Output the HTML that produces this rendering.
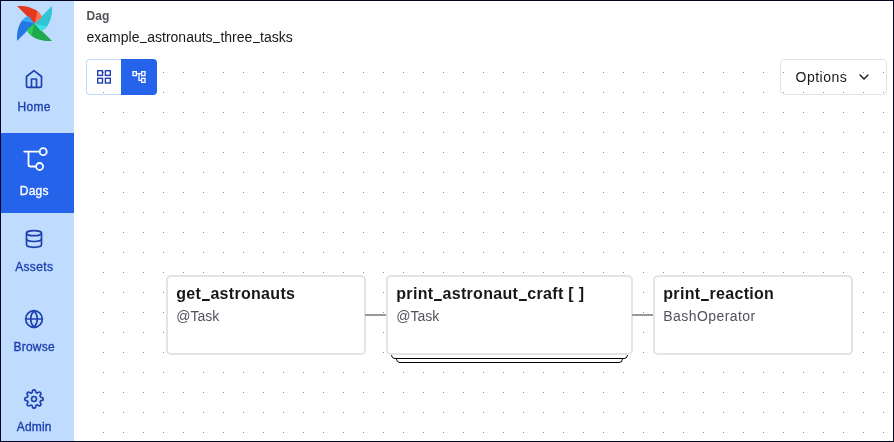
<!DOCTYPE html>
<html lang="en">
<head>
<meta charset="utf-8">
<title>example_astronauts_three_tasks - Dag</title>
<style>
*{box-sizing:border-box;margin:0;padding:0}
html,body{width:894px;height:442px;overflow:hidden;background:#fff;font-family:"Liberation Sans",sans-serif;color:#18181b}
#frame{position:absolute;left:0;top:0;width:894px;height:442px;overflow:hidden;will-change:transform}
#bord{position:absolute;left:0;top:0;width:894px;height:442px;border:1px solid #03041f;pointer-events:none;z-index:50}
#side{position:absolute;left:0;top:0;width:74px;height:442px;background:#bfdbfe}
#logo{position:absolute;left:17px;top:6px;width:35px;height:35px}
.nav{position:absolute;left:0;width:74px;height:80px;color:#1e40af;font-size:12px;line-height:16px;letter-spacing:.2px}
.nav svg{position:absolute;left:24.2px;top:15.8px;width:20px;height:20px;fill:none;stroke:currentColor;stroke-width:2;stroke-linecap:round;stroke-linejoin:round}
.nav span{position:absolute;left:0;top:46px;width:68.4px;text-align:center;white-space:nowrap;-webkit-text-stroke:.33px currentColor}
.nav.active{background:#2563eb;color:#fff}
.nav.active span{top:50px}
#dots{position:absolute;left:86px;top:59px;width:801px;height:383px}
#lbl{position:absolute;left:86.5px;top:8px;font-size:12px;font-weight:700;color:#52525b;line-height:16px;letter-spacing:.1px}
#ttl{position:absolute;left:86.5px;top:27px;font-size:14px;line-height:20px;color:#18181b}
#b1{position:absolute;left:86px;top:59px;width:36px;height:36px;border:1px solid #bfdbfe;border-right:0;border-radius:4px 0 0 4px}
#b2{position:absolute;left:121px;top:59px;width:36px;height:36px;background:#2563eb;border-radius:0 4px 4px 0}
#b1 svg{position:absolute;left:-1px;top:-1px;width:36px;height:36px;fill:none;stroke:#1e40af;stroke-width:1.4;stroke-linejoin:miter}
#b2 svg{position:absolute;left:10px;top:10px;width:16px;height:16px;fill:#fff}
#opt{position:absolute;left:780px;top:59px;width:107px;height:36px;border:1px solid #e4e4e7;border-radius:4px;font-size:14px;line-height:34px;padding-left:14.5px;color:#18181b;letter-spacing:.5px}
#opt svg{position:absolute;left:75px;top:9px;width:16px;height:16px;fill:none;stroke:#18181b;stroke-width:2;stroke-linecap:round;stroke-linejoin:round}
.node{position:absolute;top:275px;height:80px;border:2px solid #e4e4e7;border-radius:5px;background:#fff}
.node b{position:absolute;left:8.3px;top:6px;font-size:16px;line-height:22px;font-weight:700;color:#18181b;white-space:nowrap;letter-spacing:.3px}
.node i{position:absolute;left:8.3px;top:28px;font-style:normal;font-size:14px;line-height:22px;color:#52525b;white-space:nowrap}
.edge{position:absolute;top:314px;height:2px;background:#999;z-index:5}
.stk{position:absolute;border:1px solid #000;border-top:0;border-radius:0 0 4.5px 4.5px;background:#fff;height:12px}
u{text-decoration:none;color:transparent;background-repeat:no-repeat}
.node u{background-image:linear-gradient(#18181b,#18181b);background-size:7.8px 2px;background-position:.5px 13.9px}
#ttl u{background-image:linear-gradient(#18181b,#18181b);background-size:6.8px 1.3px;background-position:.5px 12.8px}
</style>
</head>
<body>
<div id="frame">
  <svg id="dots" width="801" height="383" shape-rendering="crispEdges"><defs><pattern id="dp" x="17" y="13" width="20" height="20" patternUnits="userSpaceOnUse"><rect x="0" y="0" width="1" height="1" fill="#8e8e99"/></pattern></defs><rect width="801" height="383" fill="url(#dp)"/></svg>
  <div id="lbl">Dag</div>
  <div id="ttl">example<u>_</u>astronauts<u>_</u>three<u>_</u>tasks</div>
  <div id="b1"><svg viewBox="0 0 36 36"><rect x="11.7" y="11.7" width="4.8" height="4.7"/><rect x="19.4" y="11.7" width="4.9" height="4.7"/><rect x="19.4" y="19.3" width="4.9" height="4.7"/><rect x="11.7" y="19.3" width="4.8" height="4.7"/></svg></div>
  <div id="b2"><svg viewBox="0 0 24 24"><path d="M22 11V3h-7v3H9V3H2v8h7V8h2v10h4v3h7v-8h-7v3h-2V8h2v3h7zM7 9H4V5h3v4zm10 6h3v4h-3v-4zm0-10h3v4h-3V5z"/></svg></div>
  <div id="opt">Options<svg viewBox="0 0 24 24"><path d="m6 9 6 6 6-6"/></svg></div>

  <div class="edge" style="left:365px;width:21px"></div>
  <div class="edge" style="left:632px;width:21px"></div>
  <div class="stk" style="left:396px;width:227px;top:351px"></div>
  <div class="stk" style="left:391px;width:237px;top:347px"></div>
  <div class="node" style="left:166px;width:200px"><b>get<u>_</u>astronauts</b><i>@Task</i></div>
  <div class="node" style="left:386px;width:247px"><b>print<u>_</u>astronaut<u>_</u>craft [ ]</b><i>@Task</i></div>
  <div class="node" style="left:653px;width:200px"><b>print<u>_</u>reaction</b><i style="letter-spacing:.43px">BashOperator</i></div>

<div id="side">
  <svg id="logo" viewBox="-17.5 -17.5 35 35"><path transform="rotate(0)" d="M-17.5-17.5C-15-17.7-11.1-17.6-8.5-17.1C-5-16.5-1.5-15.2 1.4-13.5C3.6-12.1 6.3-9.3 7.6-6.3L0 0Z" fill="#e43921"/><path transform="rotate(90)" d="M-17.5-17.5C-15-17.7-11.1-17.6-8.5-17.1C-5-16.5-1.5-15.2 1.4-13.5C3.6-12.1 6.3-9.3 7.6-6.3L0 0Z" fill="#2fc5d2"/><path transform="rotate(180)" d="M-17.5-17.5C-15-17.7-11.1-17.6-8.5-17.1C-5-16.5-1.5-15.2 1.4-13.5C3.6-12.1 6.3-9.3 7.6-6.3L0 0Z" fill="#1fa94b"/><path transform="rotate(270)" d="M-17.5-17.5C-15-17.7-11.1-17.6-8.5-17.1C-5-16.5-1.5-15.2 1.4-13.5C3.6-12.1 6.3-9.3 7.6-6.3L0 0Z" fill="#2279e4"/><path transform="rotate(0)" d="M7.6-6.3L0 0C1.2-3.5 2.2-7.5 2.6-12.6C4.6-11 6.5-8.8 7.6-6.3Z" fill="#ff7557"/><path transform="rotate(90)" d="M7.6-6.3L0 0C1.2-3.5 2.2-7.5 2.6-12.6C4.6-11 6.5-8.8 7.6-6.3Z" fill="#3ddfea"/><path transform="rotate(180)" d="M7.6-6.3L0 0C1.2-3.5 2.2-7.5 2.6-12.6C4.6-11 6.5-8.8 7.6-6.3Z" fill="#2ccb5a"/><path transform="rotate(270)" d="M7.6-6.3L0 0C1.2-3.5 2.2-7.5 2.6-12.6C4.6-11 6.5-8.8 7.6-6.3Z" fill="#36adf6"/></svg>
  <div class="nav" style="top:53px"><svg viewBox="0 0 24 24"><path d="M3 9l9-7 9 7v11a2 2 0 0 1-2 2H5a2 2 0 0 1-2-2z"/><polyline points="9 22 9 12 15 12 15 22"/></svg><span style="letter-spacing:.3px">Home</span></div>
  <div class="nav active" style="top:133px"><svg viewBox="0 0 74 80" style="left:0;top:0;width:74px;height:80px;stroke-width:1.8"><path d="M24.2 18.6H39.5M28.5 18.6V31.5a2 2 0 0 0 2 2H35.8"/><circle cx="43.2" cy="18.7" r="3.5"/><circle cx="39.6" cy="33.5" r="3.5"/></svg><span>Dags</span></div>
  <div class="nav" style="top:213px"><svg viewBox="0 0 24 24"><ellipse cx="12" cy="5" rx="9" ry="3"/><path d="M21 12c0 1.66-4 3-9 3s-9-1.34-9-3"/><path d="M3 5v14c0 1.66 4 3 9 3s9-1.34 9-3V5"/></svg><span style="letter-spacing:.35px">Assets</span></div>
  <div class="nav" style="top:293px"><svg viewBox="0 0 24 24"><circle cx="12" cy="12" r="10"/><line x1="2" y1="12" x2="22" y2="12"/><path d="M12 2a15.3 15.3 0 0 1 4 10 15.3 15.3 0 0 1-4 10 15.3 15.3 0 0 1-4-10 15.3 15.3 0 0 1 4-10z"/></svg><span style="letter-spacing:.25px">Browse</span></div>
  <div class="nav" style="top:373px"><svg viewBox="0 0 24 24"><circle cx="12" cy="12" r="3"/><path d="M19.4 15a1.65 1.65 0 0 0 .33 1.82l.06.06a2 2 0 0 1 0 2.83 2 2 0 0 1-2.83 0l-.06-.06a1.65 1.65 0 0 0-1.82-.33 1.65 1.65 0 0 0-1 1.51V21a2 2 0 0 1-2 2 2 2 0 0 1-2-2v-.09A1.65 1.65 0 0 0 9 19.4a1.65 1.65 0 0 0-1.82.33l-.06.06a2 2 0 0 1-2.83 0 2 2 0 0 1 0-2.83l.06-.06a1.65 1.65 0 0 0 .33-1.82 1.65 1.65 0 0 0-1.51-1H3a2 2 0 0 1-2-2 2 2 0 0 1 2-2h.09A1.65 1.65 0 0 0 4.6 9a1.65 1.65 0 0 0-.33-1.82l-.06-.06a2 2 0 0 1 0-2.83 2 2 0 0 1 2.83 0l.06.06a1.65 1.65 0 0 0 1.82.33H9a1.65 1.65 0 0 0 1-1.51V3a2 2 0 0 1 2-2 2 2 0 0 1 2 2v.09a1.65 1.65 0 0 0 1 1.51 1.65 1.65 0 0 0 1.82-.33l.06-.06a2 2 0 0 1 2.83 0 2 2 0 0 1 0 2.83l-.06.06a1.65 1.65 0 0 0-.33 1.82V9a1.65 1.65 0 0 0 1.51 1H21a2 2 0 0 1 2 2 2 2 0 0 1-2 2h-.09a1.65 1.65 0 0 0-1.51 1z"/></svg><span>Admin</span></div>
</div>
<div id="bord"></div>
</div>
</body>
</html>
